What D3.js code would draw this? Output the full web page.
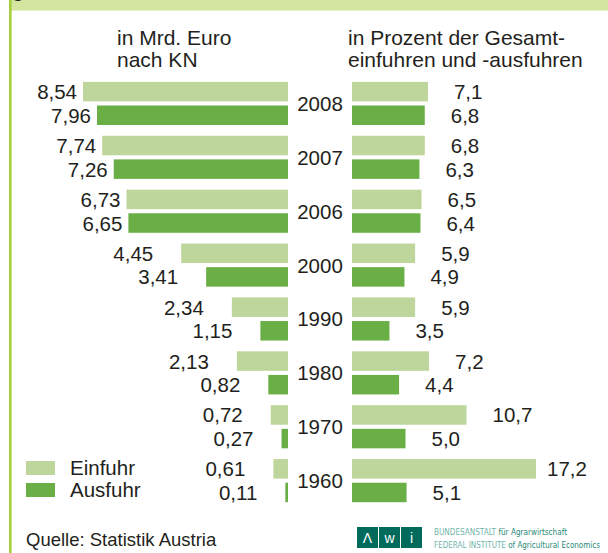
<!DOCTYPE html>
<html>
<head>
<meta charset="utf-8">
<script src="https://cdn.jsdelivr.net/npm/d3@7"></script>
<style>
  html, body { margin: 0; padding: 0; background: #fff; }
  svg { display: block; font-family: "Liberation Sans", Arial, sans-serif; }
</style>
</head>
<body>
<svg id="chart" width="608" height="553"></svg>
<script>
// Jahre
const years = ["2008", "2007", "2006", "2000", "1990", "1980", "1970", "1960"];
// in Mrd. Euro nach KN
const einfuhrMrd = [8.54, 7.74, 6.73, 4.45, 2.34, 2.13, 0.72, 0.61];
const ausfuhrMrd = [7.96, 7.26, 6.65, 3.41, 1.15, 0.82, 0.27, 0.11];
// in Prozent der Gesamtein- und -ausfuhren
const einfuhrPct = [7.1, 6.8, 6.5, 5.9, 5.9, 7.2, 10.7, 17.2];
const ausfuhrPct = [6.8, 6.3, 6.4, 4.9, 3.5, 4.4, 5.0, 5.1];
const series = ["Einfuhr", "Ausfuhr"];

const colors = { Einfuhr: "#bed69b", Ausfuhr: "#6aae46" };
const textColor = "#231f20";
const fmt = v => d3.format(".2f")(v).replace(".", ",");
const fmt1 = v => d3.format(".1f")(v).replace(".", ",");

const svg = d3.select("#chart");

// Rahmen
svg.append("rect").attr("x", 9).attr("y", 0).attr("width", 599).attr("height", 10.5).attr("fill", "#d4e59f");
svg.append("rect").attr("x", 9).attr("y", 0).attr("width", 2.6).attr("height", 553).attr("fill", "#a7cf3b");
svg.append("text").attr("x", 12).attr("y", -3).attr("font-size", 20).attr("font-weight", "bold")
  .attr("fill", textColor).text("g");

// Skalen
const y = d3.scaleBand().domain(years).range([76.5, 507.6]).paddingInner(0.2).paddingOuter(0.1);
const yInner = d3.scaleBand().domain(series).range([0, y.bandwidth()]).paddingInner(0.174).paddingOuter(0);
const xL = d3.scaleLinear().domain([0, 10]).range([288, 48]);
const xR = d3.scaleLinear().domain([0, 20]).range([352, 566]);

const rows = years.map((yr, i) => ({
  year: yr,
  left: [{ s: "Einfuhr", v: einfuhrMrd[i] }, { s: "Ausfuhr", v: ausfuhrMrd[i] }],
  right: [{ s: "Einfuhr", v: einfuhrPct[i] }, { s: "Ausfuhr", v: ausfuhrPct[i] }]
}));

// Überschriften
const heads = svg.append("g").attr("font-size", 21).attr("fill", textColor);
heads.append("text").attr("x", 117).attr("y", 45).text("in Mrd. Euro");
heads.append("text").attr("x", 117).attr("y", 67).text("nach KN");
heads.append("text").attr("x", 348).attr("y", 45).text("in Prozent der Gesamt-");
heads.append("text").attr("x", 348).attr("y", 67).text("einfuhren und -ausfuhren");

const g = svg.append("g").selectAll("g").data(rows).join("g")
  .attr("transform", d => `translate(0,${y(d.year)})`);

// linke Balken
g.selectAll("rect.l").data(d => d.left).join("rect").attr("class", "l")
  .attr("x", d => xL(d.v)).attr("y", d => yInner(d.s))
  .attr("width", d => xL(0) - xL(d.v)).attr("height", yInner.bandwidth())
  .attr("fill", d => colors[d.s]);

g.selectAll("text.l").data(d => d.left).join("text").attr("class", "l")
  .attr("x", d => xL(d.v) - (d.v > 6 ? 6 : 28))
  .attr("y", d => yInner(d.s) + yInner.bandwidth() / 2 + 7.5)
  .attr("text-anchor", "end").attr("font-size", 20.5).attr("fill", textColor)
  .text(d => fmt(d.v));

// rechte Balken
g.selectAll("rect.r").data(d => d.right).join("rect").attr("class", "r")
  .attr("x", xR(0)).attr("y", d => yInner(d.s))
  .attr("width", d => xR(d.v) - xR(0)).attr("height", yInner.bandwidth())
  .attr("fill", d => colors[d.s]);

g.selectAll("text.r").data(d => d.right).join("text").attr("class", "r")
  .attr("x", d => Math.min(xR(d.v) + 26, 547))
  .attr("y", d => yInner(d.s) + yInner.bandwidth() / 2 + 7.5)
  .attr("font-size", 20.5).attr("fill", textColor)
  .text(d => fmt1(d.v));

// Jahre
g.append("text").attr("x", 320).attr("y", y.bandwidth() / 2 + 7.5)
  .attr("text-anchor", "middle").attr("font-size", 20.5).attr("fill", textColor)
  .text(d => d.year);

// Legende
const leg = svg.append("g").selectAll("g").data(series).join("g")
  .attr("transform", (d, i) => `translate(26,${461 + i * 22})`);
leg.append("rect").attr("width", 29).attr("height", 14).attr("fill", d => colors[d]);
leg.append("text").attr("x", 44).attr("y", 14).attr("font-size", 20.5).attr("fill", textColor).text(d => d);

// Quelle
svg.append("text").attr("x", 26).attr("y", 546).attr("font-size", 18.5).attr("fill", textColor)
  .text("Quelle: Statistik Austria");

// AWI-Logo
const logo = svg.append("g").attr("transform", "translate(357,527)");
["Λ", "w", "i"].forEach((ch, i) => {
  logo.append("rect").attr("x", i * 22).attr("y", 0).attr("width", 21).attr("height", 21).attr("fill", "#006b5c");
  logo.append("text").attr("x", i * 22 + 10.5).attr("y", 15.5).attr("text-anchor", "middle")
    .attr("font-size", 14).attr("fill", "#fff").text(ch);
});
const l1 = svg.append("text").attr("x", 434).attr("y", 535).attr("font-size", 9.5)
  .attr("font-family", "'Liberation Sans Narrow', 'DejaVu Sans Condensed', sans-serif")
  .attr("textLength", 133).attr("lengthAdjust", "spacingAndGlyphs");
l1.append("tspan").attr("fill", "#72b5ab").text("BUNDESANSTALT ");
l1.append("tspan").attr("fill", "#1f8a78").text("für Agrarwirtschaft");
const l2 = svg.append("text").attr("x", 434).attr("y", 547.5).attr("font-size", 9.5)
  .attr("font-family", "'Liberation Sans Narrow', 'DejaVu Sans Condensed', sans-serif")
  .attr("textLength", 166).attr("lengthAdjust", "spacingAndGlyphs");
l2.append("tspan").attr("fill", "#72b5ab").text("FEDERAL INSTITUTE ");
l2.append("tspan").attr("fill", "#1f8a78").text("of Agricultural Economics");
</script>
</body>
</html>
